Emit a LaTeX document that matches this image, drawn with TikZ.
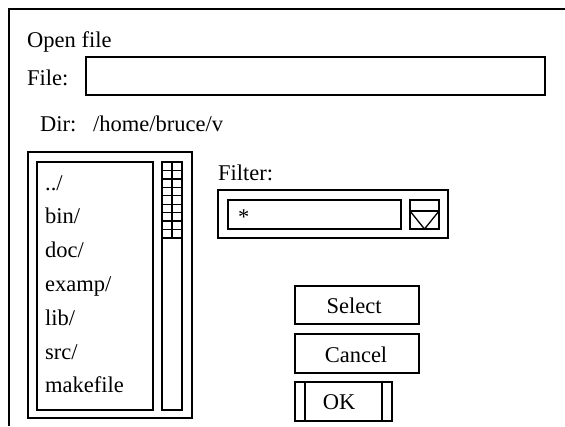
\documentclass[tikz,border=0pt]{standalone}
\usepackage{fontspec}
\setmainfont{Liberation Serif}
\begin{document}
\begin{tikzpicture}[x=1pt,y=-1pt,
  box/.style={draw, line width=1.3pt, anchor=north west, inner sep=0pt, outer sep=0pt},
  thin/.style={line width=1.3pt},
  lbl/.style={anchor=base west, inner sep=0pt, font=\fontsize{22.5}{24}\selectfont},
  btn/.style={anchor=base, inner sep=0pt, font=\fontsize{22.5}{24}\selectfont}]
\useasboundingbox (0,0) rectangle (565,426);
\fill[white] (0,0) rectangle (565,426);
% window frame
\draw[thin] (565,9) -- (9,9) -- (9,426);
% title and file entry
\node[lbl] (title) at (27,47) {Open file};
\node[lbl] (filelbl) at (27,85) {File:};
\node[box, minimum width=459pt, minimum height=38pt] (filebox) at (86,57) {};
\node[lbl] (dirlbl) at (40,131) {Dir:};
\node[lbl] (dirpath) at (93,131) {/home/bruce/v};
% file list
\node[box, minimum width=164pt, minimum height=266pt] (listouter) at (28,152) {};
\node[box, minimum width=116pt, minimum height=248pt] (listinner) at (37,162) {};
\node[box, minimum width=20pt, minimum height=248pt] (scroll) at (162,162) {};
\draw[thin] (172,162) -- (172,238);
\foreach \k in {1,...,9} {
  \draw[thin] (162,{162+8.44*\k}) -- (182,{162+8.44*\k});
}
\node[lbl] (i1) at (45,190) {../};
\node[lbl] (i2) at (45,223.8) {bin/};
\node[lbl] (i3) at (45,257.6) {doc/};
\node[lbl] (i4) at (45,291.4) {examp/};
\node[lbl] (i5) at (45,325.2) {lib/};
\node[lbl] (i6) at (45,359) {src/};
\node[lbl] (i7) at (45,392.8) {makefile};
% filter
\node[lbl] (filterlbl) at (218,180) {Filter:};
\node[box, minimum width=230pt, minimum height=48pt] (filterouter) at (218,190) {};
\node[box, minimum width=173pt, minimum height=29pt] (filterin) at (228,200) {};
\node[lbl] (star) at (238,224) {*};
\node[box, minimum width=29pt, minimum height=29pt] (drop) at (410,200) {};
\draw[thin] (410,211) -- (439,211);
\draw[thin] (410,211) -- (424.5,229) -- (439,211);
% buttons
\node[box, minimum width=124pt, minimum height=38pt] (select) at (295,286) {};
\node[btn] at (354,313) {Select};
\node[box, minimum width=124pt, minimum height=39pt] (cancel) at (295,334) {};
\node[btn] at (356,362) {Cancel};
\node[box, minimum width=97pt, minimum height=39pt] (ok) at (295,382) {};
\draw[thin] (305,382) -- (305,421);
\draw[thin] (382,382) -- (382,421);
\node[btn] at (339,409) {OK};
\end{tikzpicture}
\end{document}
